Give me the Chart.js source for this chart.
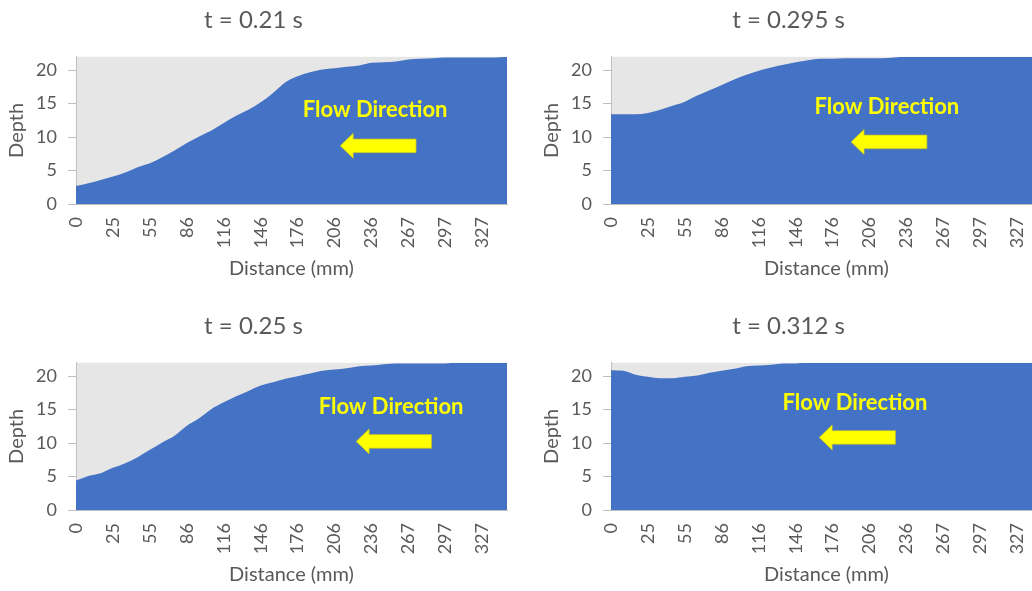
<!DOCTYPE html>
<html>
<head>
<meta charset="utf-8">
<script src="https://cdn.jsdelivr.net/npm/chart.js@4.4.1/dist/chart.umd.min.js"></script>
<style>
html, body { margin: 0; padding: 0; background: #ffffff; overflow: hidden; width: 1032px; height: 591px; }
.panel { position: absolute; width: 515px; height: 300px; }
canvas { display: block; }
</style>
</head>
<body>
<div class="panel" style="left:0px;top:0px"><canvas id="c1" width="515" height="300"></canvas></div>
<div class="panel" style="left:535px;top:0px"><canvas id="c2" width="515" height="300"></canvas></div>
<div class="panel" style="left:0px;top:306px"><canvas id="c3" width="515" height="300"></canvas></div>
<div class="panel" style="left:535px;top:306px"><canvas id="c4" width="515" height="300"></canvas></div>
<script>
// ---- data ----
const distanceMm = [0, 8, 17, 25, 35, 45, 55, 65, 76, 86, 96, 106, 116, 126, 136, 146, 156, 166,
                    176, 186, 196, 206, 216, 226, 236, 247, 257, 267, 277, 287, 297, 307, 317, 327, 337, 347];
const labelEvery = 3;
const depthTicks = [0, 5, 10, 15, 20];
const depthMax = 22;

const titleT021 = 't = 0.21 s';
const titleT0295 = 't = 0.295 s';
const titleT025 = 't = 0.25 s';
const titleT0312 = 't = 0.312 s';

const depthT021 = [2.7, 3.1, 3.6, 4.1, 4.7, 5.5, 6.1, 7.0, 8.0, 9.1, 10.1, 11.0, 12.1, 13.2, 14.1, 15.2, 16.6, 18.2,
                   19.1, 19.7, 20.1, 20.3, 20.5, 20.7, 21.1, 21.2, 21.3, 21.6, 21.7, 21.8, 21.9, 21.9, 21.9, 21.9, 21.9, 22.0];
const depthT0295 = [13.4, 13.4, 13.4, 13.6, 14.1, 14.7, 15.3, 16.2, 17.0, 17.8, 18.6, 19.3, 19.9, 20.4, 20.8, 21.2, 21.5, 21.7,
                    21.7, 21.8, 21.8, 21.8, 21.8, 21.9, 22.0, 22.0, 22.0, 22.0, 22.0, 22.0, 22.0, 22.0, 22.0, 22.0, 22.0, 22.0];
const depthT025 = [4.4, 5.1, 5.5, 6.3, 7.0, 7.9, 9.0, 10.1, 11.1, 12.6, 13.7, 15.1, 16.1, 17.0, 17.8, 18.6, 19.1, 19.6,
                   20.0, 20.4, 20.8, 21.0, 21.2, 21.5, 21.6, 21.8, 21.9, 21.9, 21.9, 21.9, 21.9, 22.0, 22.0, 22.0, 22.0, 22.0];
const depthT0312 = [20.9, 20.8, 20.2, 19.9, 19.7, 19.7, 19.9, 20.1, 20.5, 20.8, 21.1, 21.5, 21.6, 21.7, 21.9, 21.9, 22.0, 22.0,
                    22.0, 22.0, 22.0, 22.0, 22.0, 22.0, 22.0, 22.0, 22.0, 22.0, 22.0, 22.0, 22.0, 22.0, 22.0, 22.0, 22.0, 22.0];

const noteText = 'Flow Direction';

// ---- styling ----
const FONT = 'Lato, "Open Sans", "Liberation Sans", sans-serif';
const TEXT_GREY = '#595959';
const AXIS_GREY = '#BFBFBF';
const PLOT_BG = '#E6E6E6';
const BLUE = '#4472C4';
const YELLOW = '#FFFF00';

const plotBg = {
  id: 'plotBg',
  beforeDraw(chart) {
    const a = chart.chartArea, ctx = chart.ctx;
    ctx.save();
    ctx.fillStyle = PLOT_BG;
    ctx.fillRect(a.left, a.top, a.right - a.left, a.bottom - a.top);
    ctx.restore();
  }
};

const flowNote = {
  id: 'flowNote',
  afterDatasetsDraw(chart, args, opts) {
    const a = chart.chartArea, ctx = chart.ctx;
    const w = a.right - a.left, h = a.bottom - a.top;
    ctx.save();
    // text
    ctx.font = 'bold 22px ' + FONT;
    ctx.fillStyle = YELLOW;
    ctx.textAlign = 'center';
    ctx.textBaseline = 'alphabetic';
    ctx.fillText(noteText, a.left + opts.tx * w, a.top + opts.ty * h);
    // arrow
    const x0 = a.left + opts.ax0 * w, x1 = a.left + opts.ax1 * w, yc = a.top + opts.ay * h;
    const headLen = 13, headHalf = 12.5, shaftHalf = 6.8;
    ctx.beginPath();
    ctx.moveTo(x0, yc);
    ctx.lineTo(x0 + headLen, yc - headHalf);
    ctx.lineTo(x0 + headLen, yc - shaftHalf);
    ctx.lineTo(x1, yc - shaftHalf);
    ctx.lineTo(x1, yc + shaftHalf);
    ctx.lineTo(x0 + headLen, yc + shaftHalf);
    ctx.lineTo(x0 + headLen, yc + headHalf);
    ctx.closePath();
    ctx.fillStyle = YELLOW;
    ctx.fill();
    ctx.lineWidth = 1;
    ctx.strokeStyle = 'rgba(190,190,40,0.7)';
    ctx.stroke();
    ctx.restore();
  }
};

function makeChart(id, title, values, note) {
  return new Chart(document.getElementById(id), {
    type: 'line',
    data: {
      labels: distanceMm.map(String),
      datasets: [{
        data: values,
        fill: 'origin',
        backgroundColor: BLUE,
        borderColor: BLUE,
        borderWidth: 0,
        pointRadius: 0,
        cubicInterpolationMode: 'monotone'
      }]
    },
    options: {
      responsive: false,
      animation: false,
      devicePixelRatio: 1,
      layout: { padding: { left: 0, right: 8, top: 0, bottom: 0 } },
      plugins: {
        legend: { display: false },
        tooltip: { enabled: false },
        title: {
          display: true,
          text: title,
          color: TEXT_GREY,
          font: { family: FONT, size: 24, weight: 'normal' },
          padding: { top: 6, bottom: 22 }
        },
        flowNote: note
      },
      scales: {
        x: {
          type: 'category',
          offset: false,
          grid: { display: false, drawTicks: false },
          border: { display: true, color: AXIS_GREY, width: 1 },
          ticks: {
            autoSkip: false,
            minRotation: 90,
            maxRotation: 90,
            padding: 13,
            color: TEXT_GREY,
            font: { family: FONT, size: 18 },
            callback(value, index) { return index % labelEvery === 0 ? this.getLabelForValue(value) : ''; }
          },
          title: {
            display: true,
            text: 'Distance (mm)',
            color: TEXT_GREY,
            font: { family: FONT, size: 20 },
            padding: { top: 0, bottom: 19 }
          },
          afterFit(scale) { scale.height = 96; scale.paddingLeft = 0; scale.paddingRight = 0; }
        },
        y: {
          min: 0,
          max: depthMax,
          grid: { display: true, drawOnChartArea: false, drawTicks: true, tickLength: 8, color: AXIS_GREY },
          border: { display: true, color: AXIS_GREY, width: 1 },
          ticks: {
            stepSize: 5,
            padding: 11,
            color: TEXT_GREY,
            font: { family: FONT, size: 18 }
          },
          afterBuildTicks(scale) { scale.ticks = depthTicks.map(v => ({ value: v })); },
          title: {
            display: true,
            text: 'Depth',
            color: TEXT_GREY,
            font: { family: FONT, size: 20 },
            padding: { top: 5, bottom: 0 }
          },
          afterFit(scale) { scale.width = 76; scale.paddingTop = 0; scale.paddingBottom = 0; }
        }
      }
    },
    plugins: [plotBg, flowNote]
  });
}

makeChart('c1', titleT021, depthT021, { tx: 0.694, ty: 0.41, ax0: 0.613, ax1: 0.789, ay: 0.605 });
makeChart('c2', titleT0295, depthT0295, { tx: 0.640, ty: 0.39, ax0: 0.557, ax1: 0.733, ay: 0.578 });
makeChart('c3', titleT025, depthT025, { tx: 0.731, ty: 0.35, ax0: 0.650, ax1: 0.825, ay: 0.534 });
makeChart('c4', titleT0312, depthT0312, { tx: 0.566, ty: 0.318, ax0: 0.483, ax1: 0.660, ay: 0.507 });
</script>
</body>
</html>
